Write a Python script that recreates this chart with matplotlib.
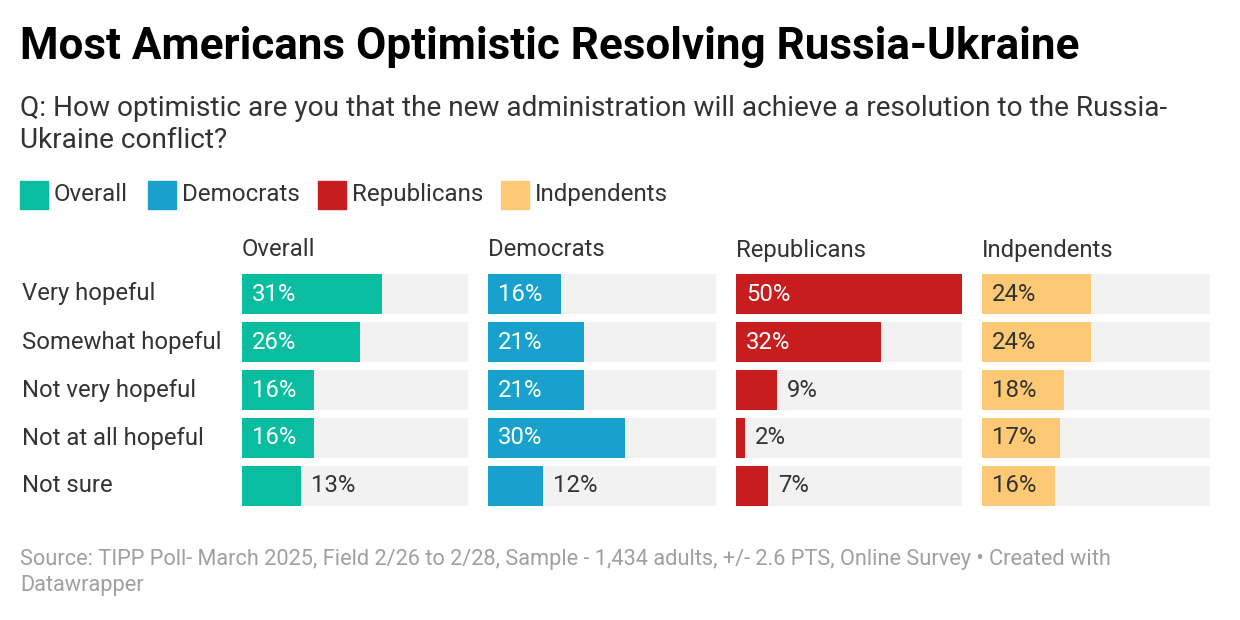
import matplotlib.pyplot as plt
from matplotlib.patches import Rectangle

plt.rcParams['font.family'] = ['Roboto', 'DejaVu Sans']

# data
answers = ["Very hopeful", "Somewhat hopeful", "Not very hopeful", "Not at all hopeful", "Not sure"]
groups = ["Overall", "Democrats", "Republicans", "Indpendents"]
overall = [31, 26, 16, 16, 13]
democrats = [16, 21, 21, 30, 12]
republicans = [50, 32, 9, 2, 7]
independents = [24, 24, 18, 17, 16]
colors = ["#0bbda0", "#18a1cd", "#c81d1e", "#fdc975"]

W, H = 1240, 620
fig = plt.figure(figsize=(W / 100, H / 100), dpi=100)


def fx(px):
    return px / W


def fy(py):
    return 1 - py / H


# title / subtitle
fig.text(fx(20), fy(47), "Most Americans Optimistic Resolving Russia-Ukraine",
         fontsize=31.7, fontweight="bold", color="#000000", va="center")
fig.text(fx(20), fy(108), "Q: How optimistic are you that the new administration will achieve a resolution to the Russia-",
         fontsize=20.2, color="#333333", va="center")
fig.text(fx(20), fy(141), "Ukraine conflict?", fontsize=20.2, color="#333333", va="center")

# legend
leg_sq = [20, 148, 318, 501]
for x0, g, c in zip(leg_sq, groups, colors):
    fig.add_artist(Rectangle((fx(x0), fy(209)), fx(28), 28 / H, color=c,
                             transform=fig.transFigure))
    fig.text(fx(x0 + 34), fy(194), g, fontsize=17.4, color="#333333", va="center")

# panels
panels = [(242, 226), (488, 228), (736, 226), (982, 228)]
values = [overall, democrats, republicans, independents]
top, bottom = 274, 506
for i, ((left, width), vals, c, g) in enumerate(zip(panels, values, colors, groups)):
    ax = fig.add_axes([fx(left), fy(bottom), fx(width), (bottom - top) / H])
    ax.set_xlim(0, 50)
    ax.set_ylim(4 + 0.4167, -0.4167)
    ax.axis("off")
    y = range(len(answers))
    ax.barh(y, [50] * len(answers), height=40 / 48, color="#f2f2f2")
    ax.barh(y, vals, height=40 / 48, color=c)
    px_per = width / 50
    for yi, v in zip(y, vals):
        if v * px_per > 60:
            tc = "#333333" if i == 3 else "white"
            ax.text(10 / px_per, yi, f"{v}%", color=tc, fontsize=17.2, va="center", ha="left")
        else:
            ax.text(v + 10 / px_per, yi, f"{v}%", color="#333333", fontsize=17.2, va="center", ha="left")
    fig.text(fx(left), fy(250), g, fontsize=17.2, color="#333333", va="center")

# row labels
for k, a in enumerate(answers):
    fig.text(fx(22), fy(294 + 48 * k), a, fontsize=17.2, color="#333333", va="center")

# footer
fig.text(fx(20), fy(559), "Source: TIPP Poll- March 2025, Field 2/26 to 2/28, Sample - 1,434 adults, +/- 2.6 PTS, Online Survey \u2022 Created with",
         fontsize=15.7, color="#a0a0a0", va="center")
fig.text(fx(20), fy(585), "Datawrapper", fontsize=15.7, color="#a0a0a0", va="center")

fig.savefig("out.png", dpi=100, facecolor="white")
